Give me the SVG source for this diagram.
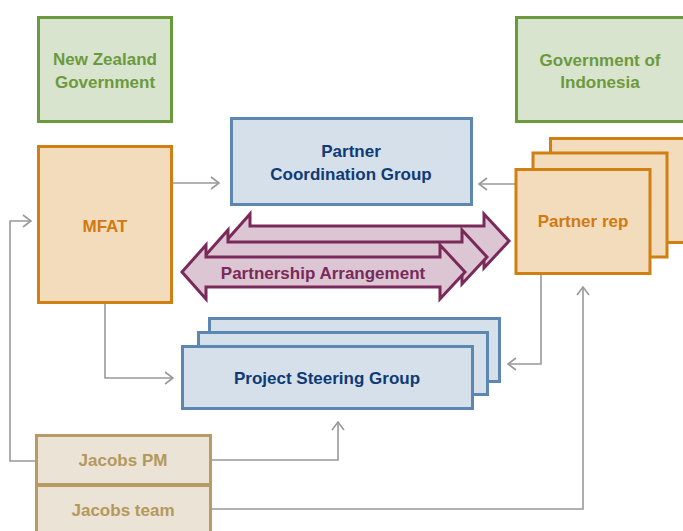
<svg xmlns="http://www.w3.org/2000/svg" width="683" height="531" viewBox="0 0 683 531">
  <defs>
    <style>
      text { font-family: "Liberation Sans", Arial, sans-serif; font-weight: bold; font-size: 17px; text-anchor: middle; }
      .gov rect { fill: #d9e4cf; stroke: #6b9a3c; stroke-width: 3; }
      .gov text { fill: #6b9a3c; }
      .org rect { fill: #f3dcbc; stroke: #d17f12; stroke-width: 3; }
      .org text { fill: #d07a10; }
      .grp rect { fill: #d5e0ea; stroke: #5b87b1; stroke-width: 3; }
      .grp text { fill: #0f3a75; }
      .jac rect { fill: #ebe3d5; stroke: #b89b62; stroke-width: 3; }
      .jac text { fill: #b4995c; }
      .pa use { fill: #dcc6d3; stroke: #7a2a5a; stroke-width: 3; stroke-linejoin: miter; }
      .pa text { fill: #7a2a5a; }
      .link { fill: none; stroke: #999; stroke-width: 1.6; }
    </style>
    <marker id="open" viewBox="0 0 10 14" refX="9" refY="7" markerWidth="10" markerHeight="14" markerUnits="userSpaceOnUse" orient="auto">
      <path d="M1,1 L9,7 L1,13" fill="none" stroke="#999" stroke-width="1.6"/>
    </marker>
    <!-- double-headed block arrow, centred on its own origin -->
    <path id="dbl" d="M0,0 L24,-27 L24,-15 L258,-15 L258,-27 L283,0 L258,27 L258,15 L24,15 L24,27 Z"/>
  </defs>

  <!-- connectors -->
  <g id="connectors">
    <path class="link" d="M172,183 H219" marker-end="url(#open)"/>
    <path class="link" d="M516,184 H479" marker-end="url(#open)"/>
    <path class="link" d="M36,461 H10 V221 H31" marker-end="url(#open)"/>
    <path class="link" d="M105,303 V378 H173" marker-end="url(#open)"/>
    <path class="link" d="M541,274 V364 H508" marker-end="url(#open)"/>
    <path class="link" d="M211,460 H338 V422" marker-end="url(#open)"/>
    <path class="link" d="M211,509 H583 V287" marker-end="url(#open)"/>
  </g>

  <g id="nz-government" class="gov">
    <rect x="38.5" y="17.5" width="133" height="104"/>
    <text x="105" y="65">New Zealand</text>
    <text x="105" y="88">Government</text>
  </g>

  <g id="government-of-indonesia" class="gov">
    <rect x="516.5" y="17.5" width="180" height="104"/>
    <text x="600" y="66">Government of</text>
    <text x="600" y="88">Indonesia</text>
  </g>

  <g id="mfat" class="org">
    <rect x="38.5" y="146.5" width="133" height="156"/>
    <text x="105" y="232">MFAT</text>
  </g>

  <g id="partner-coordination-group" class="grp">
    <rect x="231.5" y="118.5" width="240" height="86"/>
    <text x="351" y="157">Partner</text>
    <text x="351" y="180">Coordination Group</text>
  </g>

  <g id="partner-rep" class="org">
    <rect x="550.5" y="138.5" width="150" height="104"/>
    <rect x="533" y="153" width="134" height="104"/>
    <rect x="516" y="169.5" width="134" height="104"/>
    <text x="583" y="227">Partner rep</text>
  </g>

  <g id="partnership-arrangement" class="pa">
    <use href="#dbl" x="226" y="241"/>
    <use href="#dbl" x="204" y="257"/>
    <use href="#dbl" x="182" y="272"/>
    <text x="323" y="279">Partnership Arrangement</text>
  </g>

  <g id="project-steering-group" class="grp">
    <rect x="209.5" y="318.5" width="290" height="63"/>
    <rect x="198.5" y="332.5" width="289" height="62"/>
    <rect x="182.5" y="346.5" width="290" height="62"/>
    <text x="327" y="384">Project Steering Group</text>
  </g>

  <g id="jacobs-pm" class="jac">
    <rect x="36.5" y="435.5" width="174" height="49"/>
    <text x="123" y="466">Jacobs PM</text>
  </g>

  <g id="jacobs-team" class="jac">
    <rect x="36.5" y="485.5" width="174" height="60"/>
    <text x="123" y="516">Jacobs team</text>
  </g>
</svg>
